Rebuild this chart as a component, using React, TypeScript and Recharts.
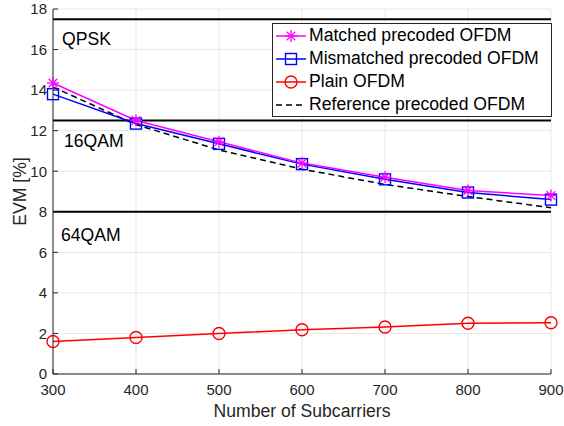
import React from "react";
import {
  LineChart,
  Line,
  XAxis,
  YAxis,
  CartesianGrid,
  ReferenceLine,
  Legend,
} from "recharts";

const subcarriers = [300, 400, 500, 600, 700, 800, 900];
const matched = [14.35, 12.5, 11.45, 10.4, 9.7, 9.05, 8.8];
const mismatched = [13.8, 12.35, 11.35, 10.35, 9.6, 8.95, 8.6];
const plain = [1.6, 1.8, 2.0, 2.18, 2.32, 2.5, 2.53];
const reference = [14.15, 12.3, 11.05, 10.1, 9.35, 8.75, 8.2];

const xTicks = [300, 400, 500, 600, 700, 800, 900];
const yTicks = [0, 2, 4, 6, 8, 10, 12, 14, 16, 18];

const thresholds = [17.5, 12.5, 8];
const zoneLabels = ["QPSK", "16QAM", "64QAM"];
const zoneOffsets = [26, 26, 29];
const zoneIndent = [9, 11, 8];

const data = subcarriers.map((n, i) => ({
  n,
  matched: matched[i],
  mismatched: mismatched[i],
  plain: plain[i],
  reference: reference[i],
}));

const FONT = '"Liberation Sans", Arial, Helvetica, sans-serif';
const AXIS = "#262626";
const LABEL_SIZE = 17.6;

type Marker = "star" | "square" | "circle" | "none";

const series: { key: string; name: string; color: string; marker: Marker; dash?: string }[] = [
  { key: "matched", name: "Matched precoded OFDM", color: "#ff00ff", marker: "star" },
  { key: "mismatched", name: "Mismatched precoded OFDM", color: "#0000ff", marker: "square" },
  { key: "plain", name: "Plain OFDM", color: "#ff0000", marker: "circle" },
  { key: "reference", name: "Reference precoded OFDM", color: "#000000", marker: "none", dash: "6 4" },
];

function MarkerShape({ type, cx, cy, color }: { type: Marker; cx: number; cy: number; color: string }) {
  if (type === "star") {
    const r = 6;
    const d = r * 0.72;
    return (
      <g stroke={color} strokeWidth={1.3} fill="none">
        <line x1={cx - r} y1={cy} x2={cx + r} y2={cy} />
        <line x1={cx} y1={cy - r} x2={cx} y2={cy + r} />
        <line x1={cx - d} y1={cy - d} x2={cx + d} y2={cy + d} />
        <line x1={cx - d} y1={cy + d} x2={cx + d} y2={cy - d} />
      </g>
    );
  }
  if (type === "square") {
    return <rect x={cx - 5.5} y={cy - 5.5} width={11} height={11} stroke={color} strokeWidth={1.4} fill="none" />;
  }
  if (type === "circle") {
    return <circle cx={cx} cy={cy} r={6} stroke={color} strokeWidth={1.4} fill="none" />;
  }
  return null;
}

function makeDot(type: Marker, color: string) {
  return (props: any) => {
    const { cx, cy, index } = props;
    if (cx == null || cy == null) return <g key={`d-${index}`} />;
    return (
      <g key={`d-${index}`}>
        <MarkerShape type={type} cx={cx} cy={cy} color={color} />
      </g>
    );
  };
}

function LegendBox() {
  return (
    <div
      style={{
        border: `1px solid ${AXIS}`,
        background: "#fff",
        width: 278,
        height: 92,
        boxSizing: "content-box",
        fontFamily: FONT,
        fontSize: LABEL_SIZE,
        color: "#000",
      }}
    >
      {series.map((s) => (
        <div key={s.key} style={{ display: "flex", alignItems: "center", height: 23 }}>
          <svg width={34} height={20} style={{ marginLeft: 2 }}>
            <line x1={1} y1={10} x2={31} y2={10} stroke={s.color} strokeWidth={1.5} strokeDasharray={s.dash} />
            <MarkerShape type={s.marker} cx={16} cy={10} color={s.color} />
          </svg>
          <span style={{ whiteSpace: "nowrap" }}>{s.name}</span>
        </div>
      ))}
    </div>
  );
}

export default function App() {
  return (
    <div style={{ position: "absolute", left: 0, top: 0, width: 564, height: 426, background: "#fff" }}>
      <LineChart
        width={564}
        height={426}
        data={data}
        margin={{ top: 9, right: 13, bottom: 0, left: 0 }}
        style={{ fontFamily: FONT }}
      >
        <CartesianGrid stroke="#e6e6e6" strokeWidth={1} />
        <XAxis
          dataKey="n"
          type="number"
          domain={[300, 900]}
          ticks={xTicks}
          height={52}
          stroke={AXIS}
          tickSize={-5}
          tickMargin={15}
          tick={{ fill: AXIS, fontSize: 15 }}
          label={(props: any) => {
            const vb = props.viewBox;
            return (
              <text
                x={vb.x + vb.width / 2}
                y={vb.y + 43}
                textAnchor="middle"
                fill={AXIS}
                fontSize={LABEL_SIZE}
                fontFamily={FONT}
              >
                Number of Subcarriers
              </text>
            );
          }}
        />
        <XAxis
          xAxisId="top"
          orientation="top"
          dataKey="n"
          type="number"
          domain={[300, 900]}
          ticks={xTicks}
          height={0}
          stroke={AXIS}
          tickSize={-5}
          tickFormatter={() => ""}
        />
        <YAxis
          type="number"
          domain={[0, 18]}
          ticks={yTicks}
          width={53}
          stroke={AXIS}
          tickSize={-5}
          tickMargin={11}
          tick={{ fill: AXIS, fontSize: 15 }}
          label={(props: any) => {
            const vb = props.viewBox;
            const cy = vb.y + vb.height / 2;
            return (
              <text
                x={26}
                y={cy}
                transform={`rotate(-90 26 ${cy})`}
                textAnchor="middle"
                fill={AXIS}
                fontSize={LABEL_SIZE}
                fontFamily={FONT}
              >
                EVM [%]
              </text>
            );
          }}
        />
        <YAxis
          yAxisId="right"
          orientation="right"
          type="number"
          domain={[0, 18]}
          ticks={yTicks}
          width={0}
          stroke={AXIS}
          tickSize={-5}
          tickFormatter={() => ""}
        />
        {thresholds.map((t, i) => (
          <ReferenceLine
            key={t}
            y={t}
            stroke="#000"
            strokeWidth={2}
            label={(props: any) => {
              const vb = props.viewBox;
              return (
                <text
                  x={vb.x + zoneIndent[i]}
                  y={vb.y + zoneOffsets[i]}
                  fill="#000"
                  fontSize={LABEL_SIZE}
                  fontFamily={FONT}
                >
                  {zoneLabels[i]}
                </text>
              );
            }}
          />
        ))}
        <Line
          dataKey="reference"
          stroke="#000"
          strokeWidth={1.5}
          strokeDasharray="6 4"
          dot={false}
          activeDot={false}
          isAnimationActive={false}
        />
        <Line
          dataKey="plain"
          stroke="#ff0000"
          strokeWidth={1.5}
          dot={makeDot("circle", "#ff0000")}
          activeDot={false}
          isAnimationActive={false}
        />
        <Line
          dataKey="mismatched"
          stroke="#0000ff"
          strokeWidth={1.5}
          dot={makeDot("square", "#0000ff")}
          activeDot={false}
          isAnimationActive={false}
        />
        <Line
          dataKey="matched"
          stroke="#ff00ff"
          strokeWidth={1.5}
          dot={makeDot("star", "#ff00ff")}
          activeDot={false}
          isAnimationActive={false}
        />
        <Legend
          layout="vertical"
          align="center"
          verticalAlign="middle"
          content={() => <LegendBox />}
          wrapperStyle={{ position: "absolute", left: 272, top: 23, width: 280, height: 94, margin: 0 }}
        />
      </LineChart>
    </div>
  );
}
